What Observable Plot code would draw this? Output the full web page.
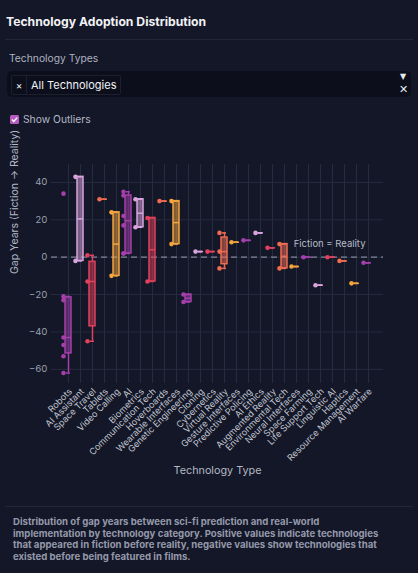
<!DOCTYPE html>
<html><head><meta charset="utf-8">
<script src="https://cdn.jsdelivr.net/npm/d3@7"></script>
<script src="https://cdn.jsdelivr.net/npm/@observablehq/plot@0.6"></script>
<style>
html,body{margin:0;padding:0;background:#131727;width:418px;height:573px;overflow:hidden;font-family:Inter,sans-serif;}
#title{position:absolute;left:6px;top:14px;font-size:12.2px;font-weight:700;color:#f1f2f6;white-space:nowrap;}
.sep{position:absolute;left:5px;width:408px;height:1px;background:#232839;}
#lbl{position:absolute;left:9px;top:52px;font-size:10.3px;color:#aeb2c0;white-space:nowrap;}
#dd{position:absolute;left:7px;top:71px;width:404px;height:26px;background:#0c0f1b;border-radius:5px;}
#chip{position:absolute;left:4px;top:4px;height:18px;border:1px solid #1b1f2e;border-radius:2px;display:flex;align-items:center;color:#f1f2f6;font-size:11px;}
#chip .x{width:14px;text-align:center;font-size:10px;border-right:1px solid #1b1f2e;height:18px;line-height:18px;}
#chip .t{padding:0 4px 0 4px;}
#arrow{position:absolute;left:393px;top:1px;color:#e8e9ee;font-size:8px;font-family:"DejaVu Sans";}
#clr{position:absolute;left:392px;top:12px;color:#e8e9ee;font-size:11px;font-weight:700;font-family:"DejaVu Sans";}
#cb{position:absolute;left:10px;top:115px;}
#cbl{position:absolute;left:23px;top:113px;font-size:10.3px;color:#b4b8c6;white-space:nowrap;}
#chart{position:absolute;left:0;top:140px;}
#cap{position:absolute;left:13px;top:516px;font-size:9.6px;line-height:11.7px;font-weight:700;color:#9599ab;white-space:nowrap;}
</style></head>
<body>
<div id="title">Technology Adoption Distribution</div>
<div class="sep" style="top:39px"></div>
<div id="lbl">Technology Types</div>
<div id="dd"><div id="chip"><span class="x">×</span><span class="t">All Technologies</span></div><div id="arrow">▼</div><div id="clr">✕</div></div>
<svg id="cb" width="9" height="9" viewBox="0 0 9 9"><rect x="0" y="0" width="9" height="9" rx="1.5" fill="#b55bbf"/><path d="M2 4.6 L3.8 6.4 L7.2 2.6" stroke="#fff" stroke-width="1.4" fill="none"/></svg>
<div id="cbl">Show Outliers</div>
<div id="chart"></div>
<div class="sep" style="top:506px"></div>
<div id="cap">Distribution of gap years between sci-fi prediction and real-world<br>implementation by technology category. Positive values indicate technologies<br>that appeared in fiction before reality, negative values show technologies that<br>existed before being featured in films.</div>
<script>
const categories = ["Robots","AI Assistant","Space Travel","Tablets","Video Calling","AI","Biometrics","Communication Tech","Hoverboards","Wearable Interfaces","Genetic Engineering","Cloning","Cybernetics","Virtual Reality","Gesture Interfaces","Predictive Policing","AI Ethics","Augmented Reality","Environmental Tech","Neural Interfaces","Space Farming","Life Support Tech","Linguistic AI","Haptics","Resource Management","AI Warfare"];
const gapYears = [
  [34,-21,-23,-43,-47,-53,-62],
  [43,-2],
  [1,-13,-45],
  [31],
  [24,-10],
  [35,33,22,17,2,2],
  [31,16],
  [21,-13],
  [30],
  [30,7],
  [-20,-24],
  [3],
  [3],
  [13,3,-6],
  [8],
  [9],
  [13],
  [5],
  [7,-6],
  [-5],
  [0],
  [-15],
  [0],
  [-2],
  [-14],
  [-3]
];
const palette = ["#a43fab","#d9a3de","#e2405c","#ef6b52","#f3a43e"];
const yTicks = [-60,-40,-20,0,20,40];
const yTitle = "Gap Years (Fiction → Reality)";
const xTitle = "Technology Type";
const refLabel = "Fiction = Reality";

function quant(s, p) {
  const h = s.length * p - 0.5;
  if (h <= 0) return s[0];
  if (h >= s.length - 1) return s[s.length - 1];
  const lo = Math.floor(h), f = h - lo;
  return s[lo] * (1 - f) + s[Math.ceil(h)] * f;
}
const stats = categories.map((name, i) => {
  const s = gapYears[i].slice().sort((a, b) => a - b);
  const q1 = quant(s, 0.25), med = quant(s, 0.5), q3 = quant(s, 0.75), iqr = q3 - q1;
  const lo = d3.min(s.filter(v => v >= q1 - 1.5 * iqr));
  const hi = d3.max(s.filter(v => v <= q3 + 1.5 * iqr));
  return {name, color: palette[i % palette.length], q1, med, q3, lo, hi};
});
const pts = categories.flatMap((name, i) => gapYears[i].map(v => ({name, v, color: palette[i % palette.length]})));

const chart = Plot.plot({
  width: 418, height: 360,
  marginTop: 24, marginBottom: 117, marginLeft: 51, marginRight: 35,
  style: {background: "transparent", color: "#9aa0b0", fontFamily: "Inter, sans-serif", fontSize: "9px", overflow: "visible"},
  x: {domain: categories, range: [53.67, 383.1], padding: 0},
  y: {domain: [-67.6, 49.6]},
  color: {type: "identity"},
  marks: [
    Plot.gridY(yTicks, {stroke: "#262b3f", strokeOpacity: 1}),
    Plot.gridX(categories, {stroke: "#262b3f", strokeOpacity: 1}),
    Plot.ruleY([0], {stroke: "#80859a", strokeDasharray: "6,4", strokeWidth: 1.2}),
    Plot.axisY(yTicks, {tickSize: 0, tickPadding: 4, fill: "#9aa0b0", fontSize: 9.5, label: null}),
    Plot.axisX({tickSize: 0, tickPadding: 4, tickRotate: -45, fill: "#c2c6d2", fontSize: 9, dx: 2, dy: 2.5, label: null}),
    Plot.text([yTitle], {frameAnchor: "left", text: d => d, rotate: -90, dx: -37, fill: "#b4b8c6", fontSize: 10.5}),
    Plot.text([xTitle], {frameAnchor: "bottom", text: d => d, dy: 90, fill: "#b4b8c6", fontSize: 10.8}),
    Plot.ruleX(stats, {x: "name", y1: "q3", y2: "hi", stroke: "color", strokeWidth: 1.5}),
    Plot.ruleX(stats, {x: "name", y1: "q1", y2: "lo", stroke: "color", strokeWidth: 1.5}),
    Plot.barY(stats, {x: "name", y1: "q1", y2: "q3", fill: "color", fillOpacity: 0.5, stroke: "color", strokeWidth: 1.5, insetLeft: 3, insetRight: 3}),
    Plot.tickY(stats, {x: "name", y: "med", stroke: "color", strokeWidth: 1.5, insetLeft: 3, insetRight: 3}),
    Plot.tickY(stats, {x: "name", y: "hi", stroke: "color", strokeWidth: 1.5, insetLeft: 4, insetRight: 4}),
    Plot.tickY(stats, {x: "name", y: "lo", stroke: "color", strokeWidth: 1.5, insetLeft: 4, insetRight: 4}),
    Plot.dot(pts, {x: "name", y: "v", fill: "color", r: 2.3, dx: -5}),
    Plot.text([refLabel], {x: () => categories[categories.length - 1], y: () => 0, text: d => d,
      textAnchor: "end", dx: -3, dy: -13, fill: "#b8bcc8", fontSize: 9.5})
  ]
});
document.getElementById("chart").appendChild(chart);
</script>
</body></html>
